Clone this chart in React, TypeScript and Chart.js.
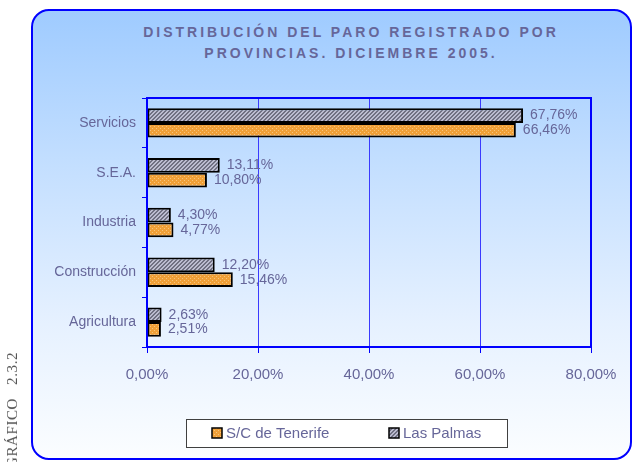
import React, { useEffect, useRef } from "react";
import { Chart, registerables } from "chart.js";

Chart.register(...registerables);

const categories = ["Servicios", "S.E.A.", "Industria", "Construcción", "Agricultura"];
const lasPalmas = [67.76, 13.11, 4.3, 12.2, 2.63];
const tenerife = [66.46, 10.8, 4.77, 15.46, 2.51];
const seriesNames = ["S/C de Tenerife", "Las Palmas"];
const xMin = 0;
const xMax = 80;
const xStep = 20;
const titleLines = ["DISTRIBUCIÓN DEL PARO REGISTRADO POR", "PROVINCIAS. DICIEMBRE 2005."];
const sideLabel = "GRÁFICO\u00a0\u00a0\u00a02.3.2";

const TEXT = "#666699";
const BLUE = "#0000ff";

function fmt(v: number) {
  return v.toFixed(2).replace(".", ",") + "%";
}

function makeOrange(): CanvasPattern | string {
  const c = document.createElement("canvas");
  c.width = 4;
  c.height = 4;
  const g = c.getContext("2d");
  if (!g) return "#f2a640";
  g.fillStyle = "#f0a038";
  g.fillRect(0, 0, 4, 4);
  g.fillStyle = "#f8c47c";
  g.fillRect(0, 0, 1, 1);
  g.fillRect(2, 2, 1, 1);
  return g.createPattern(c, "repeat") || "#f2a640";
}

function makeGray(): CanvasPattern | string {
  const c = document.createElement("canvas");
  c.width = 4;
  c.height = 4;
  const g = c.getContext("2d");
  if (!g) return "#9c9cb0";
  g.fillStyle = "#bcbcd0";
  g.fillRect(0, 0, 4, 4);
  g.fillStyle = "#707082";
  for (let i = 0; i < 4; i++) {
    g.fillRect(i, 3 - i, 1, 1);
    g.fillRect((i + 1) % 4, 3 - i, 1, 1);
  }
  return g.createPattern(c, "repeat") || "#9c9cb0";
}

export default function App() {
  const ref = useRef<HTMLCanvasElement | null>(null);

  useEffect(() => {
    if (!ref.current) return;
    const orange = makeOrange();
    const gray = makeGray();

    const decor = {
      id: "decor",
      afterDatasetsDraw(chart: any) {
        const ctx = chart.ctx;
        const { left, top, right, bottom } = chart.chartArea;
        ctx.save();
        ctx.strokeStyle = BLUE;
        ctx.lineWidth = 2;
        ctx.strokeRect(left, top, right - left, bottom - top);
        ctx.font = "14px Arial, 'Liberation Sans', sans-serif";
        ctx.fillStyle = TEXT;
        ctx.textAlign = "left";
        ctx.textBaseline = "middle";
        chart.data.datasets.forEach((ds: any, di: number) => {
          const meta = chart.getDatasetMeta(di);
          meta.data.forEach((el: any, i: number) => {
            ctx.fillText(fmt(ds.data[i]), el.x + 7, el.y);
          });
        });
        ctx.restore();
      },
      afterDraw(chart: any) {
        const ctx = chart.ctx;
        ctx.save();
        ctx.fillStyle = "#ffffff";
        ctx.fillRect(186, 419, 322, 29);
        ctx.strokeStyle = "#404040";
        ctx.lineWidth = 1;
        ctx.strokeRect(186.5, 419.5, 321, 28);
        const items = [
          { x: 212, label: seriesNames[0], fill: orange },
          { x: 389, label: seriesNames[1], fill: gray },
        ];
        ctx.font = "15px Arial, 'Liberation Sans', sans-serif";
        ctx.textBaseline = "middle";
        items.forEach((it) => {
          ctx.fillStyle = it.fill as any;
          ctx.fillRect(it.x, 428, 10, 10);
          ctx.strokeStyle = "#000";
          ctx.lineWidth = 1.5;
          ctx.strokeRect(it.x, 428, 10, 10);
          ctx.fillStyle = TEXT;
          ctx.fillText(it.label, it.x + 14, 433.5);
        });
        ctx.restore();
      },
    };

    const chart = new Chart(ref.current, {
      type: "bar",
      data: {
        labels: categories,
        datasets: [
          {
            label: seriesNames[1],
            data: lasPalmas,
            backgroundColor: gray as any,
            borderColor: "#000000",
            borderWidth: 2,
            borderSkipped: false,
            categoryPercentage: 0.59,
            barPercentage: 1.0,
          },
          {
            label: seriesNames[0],
            data: tenerife,
            backgroundColor: orange as any,
            borderColor: "#000000",
            borderWidth: 2,
            borderSkipped: false,
            categoryPercentage: 0.59,
            barPercentage: 1.0,
          },
        ],
      },
      options: {
        indexAxis: "y",
        responsive: false,
        animation: false,
        layout: { padding: { top: 98, right: 41, bottom: 75, left: 0 } },
        plugins: {
          legend: { display: false },
          title: { display: false },
          tooltip: { enabled: false },
        },
        scales: {
          x: {
            type: "linear",
            min: xMin,
            max: xMax,
            ticks: {
              stepSize: xStep,
              color: TEXT,
              padding: 13,
              font: { size: 15, family: "Arial, 'Liberation Sans', sans-serif" },
              callback: (v: any) => fmt(Number(v)),
            },
            grid: {
              color: (c: any) =>
                c.tick && (c.tick.value === xMin || c.tick.value === xMax) ? "rgba(0,0,0,0)" : "#3a3aff",
              tickColor: BLUE,
              tickLength: 6,
              lineWidth: 1,
            },
            border: { display: false },
            afterFit: (s: any) => {
              s.height = 40;
            },
          },
          y: {
            type: "category",
            ticks: {
              color: TEXT,
              padding: 6,
              font: { size: 14, family: "Arial, 'Liberation Sans', sans-serif" },
            },
            grid: {
              offset: true,
              drawOnChartArea: false,
              tickLength: 5,
              color: BLUE,
              lineWidth: 1,
            },
            border: { display: false },
            afterFit: (s: any) => {
              s.width = 147;
            },
          },
        },
      },
      plugins: [decor],
    } as any);

    return () => chart.destroy();
  }, []);

  return (
    <div
      style={{
        position: "fixed",
        left: 0,
        top: 0,
        width: 632,
        height: 462,
        overflow: "hidden",
        background: "#ffffff",
      }}
    >
      <div
        style={{
          position: "absolute",
          left: 31,
          top: 9,
          width: 601,
          height: 451,
          boxSizing: "border-box",
          border: "2px solid #0000ff",
          borderRadius: 18,
          background: "linear-gradient(to bottom, #9fcbff 0%, #c4dfff 35%, #e6f1ff 70%, #fbfdff 100%)",
        }}
      />
      <div
        style={{
          position: "absolute",
          left: 51,
          width: 600,
          top: 22,
          textAlign: "center",
          fontFamily: "Arial, 'Liberation Sans', sans-serif",
          fontWeight: "bold",
          fontSize: 14,
          letterSpacing: "3px",
          lineHeight: "21px",
          color: TEXT,
        }}
      >
        <div>{titleLines[0]}</div>
        <div>{titleLines[1]}</div>
      </div>
      <canvas
        ref={ref}
        width={632}
        height={462}
        style={{ position: "absolute", left: 0, top: 0, width: 632, height: 462 }}
      />
      <div
        style={{
          position: "absolute",
          left: 4,
          top: 352,
          writingMode: "vertical-rl",
          transform: "rotate(180deg)",
          fontFamily: "'Liberation Serif', 'Times New Roman', serif",
          fontSize: 15,
          lineHeight: "16px",
          letterSpacing: "0.6px",
          color: "#555555",
          whiteSpace: "nowrap",
        }}
      >
        {sideLabel}
      </div>
    </div>
  );
}
